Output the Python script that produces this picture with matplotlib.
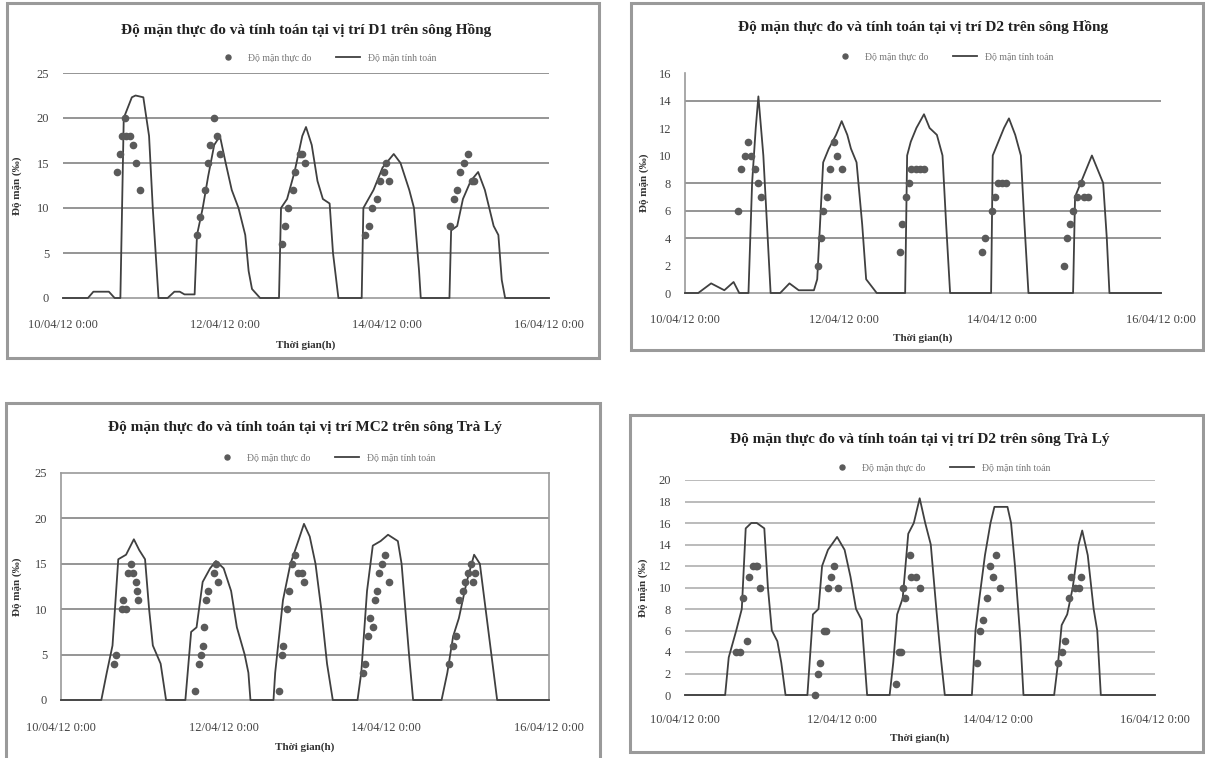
import matplotlib
matplotlib.use("Agg")
import matplotlib.pyplot as plt
from matplotlib.patches import Rectangle

W, H = 1205, 758

TICK_HOURS = [0, 48, 96, 144]
TICK_LABELS = ["10/04/12 0:00", "12/04/12 0:00", "14/04/12 0:00", "16/04/12 0:00"]
LEG_LABELS = ["Độ mặn thực đo", "Độ mặn tính toán"]

# D1 - song Hong
h1_line = [0, 7.4, 9, 13.6, 15.3, 17, 18, 20.4, 21.5, 23.8, 25.5, 26.6, 28.3,
           31, 33, 34.6, 36, 39,
           39.7, 41.4, 43, 44.8, 46.5, 48.2, 50, 52, 54, 55, 56, 58.4,
           64, 64.6, 66.4, 68.6, 70.9, 72, 73.7, 75.4, 77, 79, 80, 81.6,
           88.5, 89, 92, 94.7, 98, 100, 102.6, 104, 105.5, 106,
           114.5, 115, 116.8, 118.5, 120.8, 123, 125, 127.6, 129, 130, 131, 144]
v1_line = [0, 0, 0.7, 0.7, 0, 0, 20, 22.3, 22.5, 22.3, 18, 10, 0,
           0, 0.7, 0.7, 0.4, 0.4,
           7, 10, 13.5, 17, 18, 15, 12, 10, 7, 3, 1, 0,
           0, 10, 11, 14, 18, 19, 17, 13, 11, 10.5, 5, 0,
           0, 10, 12, 14.5, 16, 15, 12, 10, 3, 0,
           0, 7.5, 8, 11, 13, 14, 12, 8, 7, 2, 0, 0]
h1_pts = [16.1, 16.8, 17.6, 18.5, 18.7, 19.8, 20.8, 21.5, 22.9,
          39.7, 40.5, 42, 42.9, 43.7, 44.8, 45.7, 46.5,
          65, 65.8, 66.6, 68, 68.8, 70.1, 70.9, 71.8,
          89.6, 90.7, 91.5, 93, 93.9, 95, 95.8, 96.7,
          114.8, 115.9, 116.8, 117.7, 118.7, 119.9, 121.1, 121.9]
v1_pts = [14, 16, 18, 20, 18, 18, 17, 15, 12,
          7, 9, 12, 15, 17, 20, 18, 16,
          6, 8, 10, 12, 14, 16, 16, 15,
          7, 8, 10, 11, 13, 14, 15, 13,
          8, 11, 12, 14, 15, 16, 13, 13]

# D2 - song Hong
h2_line = [0, 4, 7.9, 11.9, 14.7, 16.4, 19.2, 20.3, 21.4, 22.2, 23.7, 24.8, 25.9,
           28.8, 31.6, 34.4, 39, 40, 41.8, 43.5, 45.7, 47.4, 49.1, 50.2, 51.9, 53.6, 54.8, 58,
           66.6, 67.2, 68.3, 70, 72.3, 74, 76.2, 77.9, 79, 80.2,
           92.6, 93.1, 94.8, 96.5, 98, 99.9, 101.6, 102.7, 103.9,
           117.4, 118, 119.7, 121.4, 123.1, 124.8, 126.5, 127.6, 128.4, 144]
v2_line = [0, 0, 0.7, 0.2, 0.8, 0, 0, 8, 12, 14.3, 10, 5, 0,
           0, 0.7, 0.2, 0.2, 1, 9.5, 10.5, 11.5, 12.5, 11.5, 10.5, 9.5, 5, 1, 0,
           0, 10, 11, 12, 13, 12, 11.5, 10, 5, 0,
           0, 10, 11, 12, 12.7, 11.5, 10, 5, 0,
           0, 7, 8, 9, 10, 9, 8, 4, 0, 0]
h2_pts = [16.1, 16.9, 18.1, 19.2, 20, 21.1, 22.2, 23.1,
          40.3, 41.2, 41.8, 42.9, 44, 45.2, 46, 47.4,
          64.9, 65.7, 66.8, 67.7, 68.5, 70, 71.1, 72.3,
          89.8, 90.9, 92.9, 93.7, 94.8, 96, 97.1,
          114.6, 115.7, 116.5, 117.4, 118.5, 119.7, 120.8, 121.9]
v2_pts = [6, 9, 10, 11, 10, 9, 8, 7,
          2, 4, 6, 7, 9, 11, 10, 9,
          3, 5, 7, 8, 9, 9, 9, 9,
          3, 4, 6, 7, 8, 8, 8,
          2, 4, 5, 6, 7, 8, 7, 7]

# MC2 - song Tra Ly
h3_line = [0, 11.9, 13.5, 15.2, 16.9, 19.2, 21.5, 23.1, 24.8, 26, 27.1, 29.4, 31,
           36.7, 38.4, 40, 41.8, 44, 45.7, 48, 50.2, 51.9, 54.2, 55.3, 55.9,
           62.7, 63.2, 65.5, 67.7, 70, 71.7, 73.4, 75.1, 76.8, 78.5, 80.2,
           87.5, 88.6, 90.3, 92, 94.3, 96.5, 99.4, 100.5, 101.6, 102.7, 103.9,
           112.3, 114, 115.7, 117.4, 119.7, 121.9, 123.6, 125.3, 127, 128.7, 144]
v3_line = [0, 0, 3, 6, 15.5, 16, 17.7, 16.5, 15.5, 10, 6, 4, 0,
           0, 7.5, 8, 13, 14.5, 15.3, 14.5, 12, 8, 5, 3, 0,
           0, 3, 11, 15, 17.5, 19.4, 18, 15, 10, 4, 0,
           0, 3, 12, 17, 17.5, 18.2, 17.5, 15, 10, 5, 0,
           0, 3, 7, 9, 13, 16, 15, 10, 5, 0, 0]
h3_pts = [15.6, 16.1, 18.1, 18.4, 19.2, 19.8, 20.7, 21.2, 22, 22.4, 22.8,
          39.5, 40.6, 41.2, 41.8, 42.3, 42.9, 43.5, 45.2, 45.7, 46.3,
          64.4, 65.3, 65.5, 66.6, 67.2, 68.3, 69.1, 70, 71.1, 71.7,
          89.2, 89.8, 90.7, 91.2, 92, 92.6, 93.1, 93.9, 94.8, 95.7, 96.9,
          114.6, 115.7, 116.5, 117.4, 118.5, 119.1, 120.2, 121, 121.7, 122.2]
v3_pts = [4, 5, 10, 11, 10, 14, 15, 14, 13, 12, 11,
          1, 4, 5, 6, 8, 11, 12, 14, 15, 13,
          1, 5, 6, 10, 12, 15, 16, 14, 14, 13,
          3, 4, 7, 9, 8, 11, 12, 14, 15, 16, 13,
          4, 6, 7, 11, 12, 13, 14, 15, 13, 14]

# D2 - song Tra Ly
h4_line = [0, 12.3, 13.4, 15.7, 17.4, 18.6, 20.3, 22, 24.3, 25.4, 26.6, 28.3, 29.5, 30.8,
           37.5, 39.2, 40.9, 42, 43.8, 46.6, 48.9, 50.7, 52.4, 54.1, 55.8,
           62.7, 63.8, 65, 66.7, 68.4, 70.1, 71.9, 73.6, 75.3, 77, 78.2, 79.6,
           87.9, 89, 90.2, 91.9, 93.6, 94.8, 98.8, 99.9, 101.1, 102.8, 103.7,
           113.1, 114.3, 115.4, 117.1, 118.8, 120.6, 121.7, 123.4, 125.2, 126.3, 127.4, 144]
v4_line = [0, 0, 3.5, 6, 8, 15.5, 16, 16, 15.5, 10, 6, 5, 3, 0,
           0, 7.5, 8, 12, 13.5, 14.7, 13.5, 11, 8, 7, 0,
           0, 3, 7.5, 9, 15, 16, 18.3, 16, 14, 8, 4, 0,
           0, 6, 9, 13, 16, 17.5, 17.5, 16, 12, 5, 0,
           0, 3, 6.5, 7.5, 10, 14, 15.3, 13, 8, 6, 0, 0]
h4_pts = [15.5, 16.8, 17.8, 18.9, 19.7, 20.9, 21.7, 22.2, 22.9,
          39.8, 40.7, 41.5, 42.6, 43.2, 43.8, 44.6, 45.7, 46.9,
          64.7, 65.5, 66.1, 66.7, 67.3, 69, 69.3, 70.7, 71.9,
          89.6, 90.4, 91.3, 92.5, 93.4, 94.5, 95.3, 96.5,
          114.3, 115.4, 116.5, 117.7, 118.3, 119.4, 120.6, 121.4]
v4_pts = [4, 4, 9, 5, 11, 12, 12, 12, 10,
          0, 2, 3, 6, 6, 10, 11, 12, 10,
          1, 4, 4, 10, 9, 13, 11, 11, 10,
          3, 6, 7, 9, 12, 11, 13, 10,
          3, 4, 5, 9, 11, 10, 10, 11]

plt.rcParams['font.family'] = ['Liberation Serif', 'DejaVu Serif']

fig = plt.figure(figsize=(W / 100, H / 100), dpi=100)


def fx(x):
    return x / W


def fy(y):
    return 1 - y / H


def panel(plot_px, box_px, title, title_y, leg_y, ymax, ystep, grid_vals,
          hl, vl, hp, vp, ylabel, ylab_x, xtick_y, xlab_y, grid_col="#8c8c8c",
          left_spine=False, full_box=False):
    # chart border
    bl, bt, br, bb = box_px
    fig.patches.append(Rectangle((fx(bl), fy(bb)), fx(br - bl), (bb - bt) / H,
                                 transform=fig.transFigure, fill=False,
                                 edgecolor="#9a9a9a", lw=2.2))
    l, t, r, b = plot_px
    ax = fig.add_axes([fx(l), fy(b), fx(r - l), (b - t) / H])
    for g in grid_vals:
        ax.axhline(g, color=grid_col, lw=1.3, zorder=0)
    ax.plot(hl, vl, color="#404040", lw=1.3, label=LEG_LABELS[1], zorder=4,
            clip_on=False)
    ax.plot(hp, vp, "o", color="#5a5a5a", ms=4.5, label=LEG_LABELS[0], zorder=5,
            clip_on=False)
    ax.set_xlim(0, 144)
    ax.set_ylim(0, ymax)
    ax.set_yticks(range(0, ymax + 1, ystep))
    ax.set_xticks(TICK_HOURS)
    ax.set_xticklabels(TICK_LABELS)
    ax.tick_params(axis="both", length=0, labelsize=9, labelcolor="#444444")
    ax.tick_params(axis="y", pad=10)
    ax.tick_params(axis="x", pad=(xtick_y - b - 6) * 0.72)
    for s in ["top", "right", "left"]:
        ax.spines[s].set_visible(full_box)
    if left_spine:
        ax.spines["left"].set_visible(True)
    for s in ax.spines.values():
        s.set_color("#9a9a9a")
        s.set_linewidth(1.2)
    ax.patch.set_alpha(0)
    cx = (l + r) / 2
    fig.text(fx(cx), fy(title_y), title, ha="center", va="center",
             fontsize=11, fontweight="bold", color="#222222")
    fig.text(fx(cx), fy(xlab_y), "Thời gian(h)", ha="center", va="center",
             fontsize=8, fontweight="bold", color="#333333")
    fig.text(fx(ylab_x), fy((t + b) / 2), ylabel, ha="center", va="center",
             rotation=90, fontsize=8, fontweight="bold", color="#333333")
    handles, labels = ax.get_legend_handles_labels()
    fig.legend(handles[::-1], labels[::-1], loc="center",
               bbox_to_anchor=(fx(cx + 20), fy(leg_y)), ncol=2, frameon=False,
               fontsize=7, labelcolor="#777777", handlelength=2.5,
               columnspacing=2.5, markerscale=0.8)
    return ax


panel((63, 73, 549, 298), (7, 3, 599, 358),
      "Độ mặn thực đo và tính toán tại vị trí D1 trên sông Hồng", 30, 58,
      25, 5, [5, 10, 15, 20, 25], h1_line, v1_line, h1_pts, v1_pts,
      "Độ mặn (‰)", 17, 325, 345)

panel((685, 73, 1161, 293), (631, 3, 1203, 350),
      "Độ mặn thực đo và tính toán tại vị trí D2 trên sông Hồng", 27, 57,
      16, 2, [4, 6, 8, 14], h2_line, v2_line, h2_pts, v2_pts,
      "Độ mặn (‰)", 644, 320, 338, left_spine=True)

panel((61, 473, 549, 700), (6, 403, 600, 760),
      "Độ mặn thực đo và tính toán tại vị trí MC2 trên sông Trà Lý", 428, 458,
      25, 5, [5, 10, 15, 20], h3_line, v3_line, h3_pts, v3_pts,
      "Độ mặn (‰)", 17, 728, 747, full_box=True)

panel((685, 480, 1155, 695), (630, 415, 1203, 752),
      "Độ mặn thực đo và tính toán tại vị trí D2 trên sông Trà Lý", 440, 468,
      20, 2, list(range(2, 21, 2)), h4_line, v4_line, h4_pts, v4_pts,
      "Độ mặn (‰)", 643, 720, 738, grid_col="#b5b5b5")

fig.savefig("out.png", dpi=100)
